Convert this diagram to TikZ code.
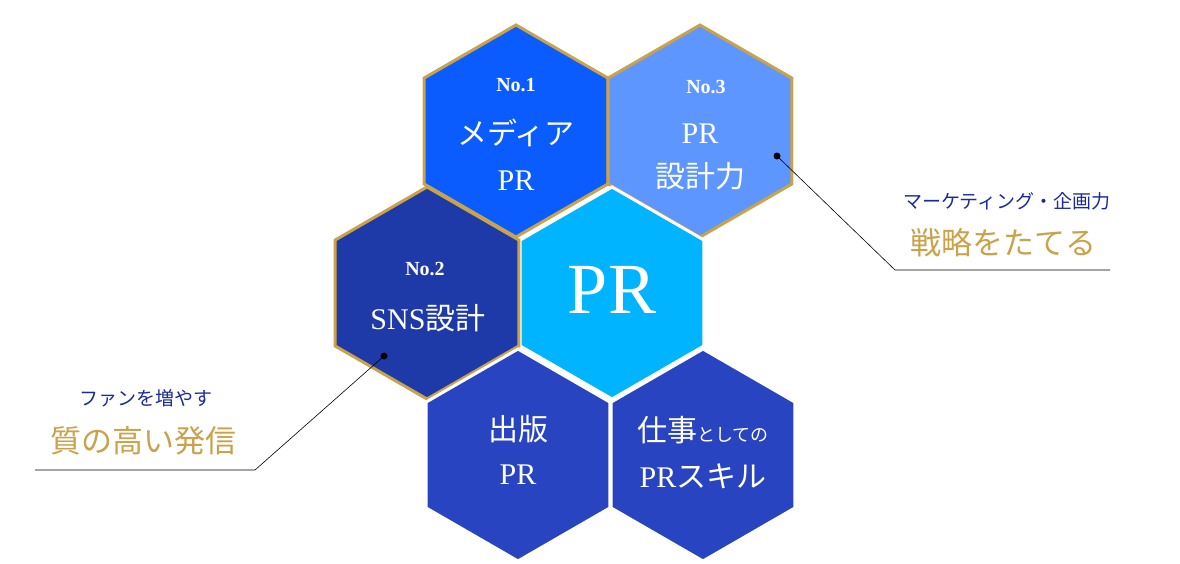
\documentclass[tikz,border=0pt]{standalone}
\usepackage{fontspec}
\setmainfont{Liberation Serif}
\newfontfamily\cjk{Noto Sans CJK JP}
\usetikzlibrary{shapes.geometric}
\definecolor{gold}{HTML}{C9A24A}
\definecolor{hexA}{HTML}{0A5CFF}
\definecolor{hexB}{HTML}{5E96FF}
\definecolor{hexC}{HTML}{1E3AA8}
\definecolor{hexPR}{HTML}{00B4FF}
\definecolor{hexD}{HTML}{2944C0}
\definecolor{navy}{HTML}{1A2A9A}
\tikzset{
  hex/.style={regular polygon, regular polygon sides=6, shape border rotate=30,
    minimum size=212pt, inner sep=0pt, line width=3pt, text=white, align=center},
  lead/.style={line width=0.6pt},
}
\begin{document}
\begin{tikzpicture}[x=1pt,y=-1pt]
  \useasboundingbox (0,0) rectangle (1180,563);
  % hexagons
  \node[hex, fill=hexA, draw=gold] (media) at (516,131) {};
  \node[hex, fill=hexB, draw=gold] (design) at (700,131) {};
  \node[hex, fill=hexPR, draw=white] (pr) at (612,293) {};
  \node[hex, fill=hexC, draw=gold] (sns) at (427,293) {};
  \node[hex, fill=hexD, draw=white] (book) at (518,455) {};
  \node[hex, fill=hexD, draw=white] (skill) at (703,455) {};
  % labels
  \node[text=white, font=\bfseries\fontsize{20}{24}\selectfont] at (516,85) {No.1};
  \node[text=white, align=center, font=\fontsize{30}{46}\selectfont] at (516,155) {{\cjk メディア}\\PR};
  \node[text=white, font=\bfseries\fontsize{20}{24}\selectfont] at (706,87) {No.3};
  \node[text=white, align=center, font=\fontsize{30}{44}\selectfont] at (700,157) {PR\\{\cjk 設計力}};
  \node[text=white, font=\bfseries\fontsize{20}{24}\selectfont] at (425,269) {No.2};
  \node[text=white, font=\fontsize{30}{36}\selectfont] at (428,318) {SNS{\cjk 設計}};
  \node[text=white, font=\fontsize{72}{80}\selectfont] at (612,290) {PR};
  \node[text=white, align=center, font=\fontsize{30}{44}\selectfont] at (518,450) {{\cjk 出版}\\PR};
  \node[text=white, align=center, font=\fontsize{30}{46}\selectfont] at (703,453)
    {{\cjk 仕事{\fontsize{18}{20}\selectfont としての}}\\PR{\cjk スキル}};
  % callouts
  \coordinate (rdot) at (777,156);
  \coordinate (rbend) at (895,270);
  \coordinate (rend) at (1110,270);
  \fill (rdot) circle (3.5pt);
  \draw[lead] (rdot) -- (rbend) -- (rend);
  \node[text=navy, font=\cjk\fontsize{19}{22}\selectfont] (rsub) at (1007,201) {マーケティング・企画力};
  \node[text=gold, font=\cjk\fontsize{31}{36}\selectfont] (rmain) at (1003,243) {戦略をたてる};
  \coordinate (ldot) at (384,356);
  \coordinate (lbend) at (255,470);
  \coordinate (lend) at (35,470);
  \fill (ldot) circle (3.5pt);
  \draw[lead] (ldot) -- (lbend) -- (lend);
  \node[text=navy, font=\cjk\fontsize{19}{22}\selectfont] (lsub) at (146,398) {ファンを増やす};
  \node[text=gold, font=\cjk\fontsize{31}{36}\selectfont] (lmain) at (143,441) {質の高い発信};
\end{tikzpicture}
\end{document}
